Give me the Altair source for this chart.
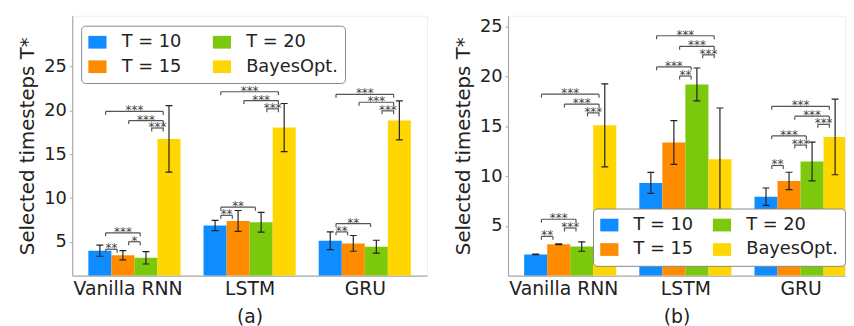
import json
import altair as alt
import pandas as pd

# ---------------- data ----------------
models = ["Vanilla RNN", "LSTM", "GRU"]
series = ["T = 10", "T = 15", "T = 20", "BayesOpt."]
colors = ["#0f8cff", "#ff8c00", "#7bc80c", "#ffd600"]

# panel (a): means and std per series, ordered as models
a_t10 = [4.01, 6.88, 5.14]
a_t15 = [3.49, 7.40, 4.84]
a_t20 = [3.19, 7.25, 4.46]
a_bo = [16.76, 18.05, 18.87]
a_t10_sd = [0.64, 0.59, 1.01]
a_t15_sd = [0.53, 1.19, 0.90]
a_t20_sd = [0.70, 1.13, 0.74]
a_bo_sd = [3.80, 2.75, 2.22]

# panel (b)
b_t10 = [2.14, 9.32, 7.94]
b_t15 = [3.16, 13.38, 9.52]
b_t20 = [2.93, 19.21, 11.47]
b_bo = [15.10, 11.70, 13.94]
b_t10_sd = [0.03, 1.05, 0.87]
b_t15_sd = [0.03, 2.20, 0.87]
b_t20_sd = [0.47, 1.65, 1.95]
b_bo_sd = [4.17, 5.14, 3.80]

# significance brackets: (model index, bar i, bar j, level, label)
a_brackets = [
    (0, 0, 3, 19.89, "***"), (0, 1, 3, 18.84, "***"), (0, 2, 3, 18.00, "***"),
    (0, 0, 2, 6.04, "***"), (0, 1, 2, 5.03, "*"), (0, 0, 1, 4.17, "**"),
    (1, 0, 3, 22.14, "***"), (1, 1, 3, 21.13, "***"), (1, 2, 3, 20.19, "***"),
    (1, 0, 2, 8.97, "**"), (1, 0, 1, 8.04, "**"),
    (2, 0, 3, 21.84, "***"), (2, 1, 3, 20.94, "***"), (2, 2, 3, 19.96, "***"),
    (2, 0, 2, 7.10, "**"), (2, 0, 1, 6.15, "**"),
]
b_brackets = [
    (0, 0, 3, 18.23, "***"), (0, 1, 3, 17.24, "***"), (0, 2, 3, 16.35, "***"),
    (0, 0, 2, 5.67, "***"), (0, 1, 2, 4.79, "***"), (0, 0, 1, 3.95, "**"),
    (1, 0, 3, 24.10, "***"), (1, 1, 3, 23.04, "***"), (1, 2, 3, 22.18, "***"),
    (1, 0, 2, 20.97, "***"), (1, 1, 2, 20.05, "**"),
    (2, 0, 3, 17.01, "***"), (2, 1, 3, 16.02, "***"), (2, 2, 3, 15.20, "***"),
    (2, 0, 2, 14.04, "***"), (2, 1, 2, 13.12, "***"), (2, 0, 1, 11.07, "**"),
]

y_ticks = [5, 10, 15, 20, 25]

# ---------------- styling ----------------
BAR_W = 0.2
SHRINK = 0.05
FONT = "DejaVu Sans"
label_expr = json.dumps(models) + "[datum.value]"


def panel(means, sds, brackets, xdomain, ydomain, width, caption, legend):
    rows = []
    for k, s in enumerate(series):
        for g, m in enumerate(models):
            c = g + (k - 1.5) * BAR_W
            rows.append(dict(series=s, model=m, xc=c, x0=c - BAR_W / 2,
                             x1=c + BAR_W / 2, value=means[k][g],
                             lo=means[k][g] - sds[k][g], hi=means[k][g] + sds[k][g]))
    df = pd.DataFrame(rows)

    brows, trows = [], []
    for g, i, j, lev, lab in brackets:
        x1 = g + (i - 1.5) * BAR_W + SHRINK
        x2 = g + (j - 1.5) * BAR_W - SHRINK
        brows.append(dict(bx1=x1, bx2=x2, mid=(x1 + x2) / 2, level=lev, label=lab))
        trows.append(dict(tx=x1, level=lev))
        trows.append(dict(tx=x2, level=lev))
    bdf = pd.DataFrame(brows)
    tdf = pd.DataFrame(trows)

    xs = alt.Scale(domain=xdomain, nice=False, zero=False)
    ys = alt.Scale(domain=ydomain, nice=False, zero=False)
    xaxis = alt.Axis(values=[0, 1, 2], labelExpr=label_expr, title=caption,
                     labelFontSize=19, titleFontSize=19, tickSize=0,
                     labelPadding=4, titlePadding=9, grid=False,
                     labelFlush=False, labelOverlap=False,
                     labelOffset={"condition": {"test": "datum.value == 0", "value": -7},
                                  "value": 0})
    yaxis = alt.Axis(values=y_ticks, title="Selected timesteps T*",
                     labelFontSize=18, titleFontSize=20, tickSize=3,
                     labelPadding=3, titlePadding=6, grid=False)

    def X(f):
        return alt.X(f, scale=xs, axis=xaxis)

    def Y(f):
        return alt.Y(f, scale=ys, axis=yaxis)

    bars = alt.Chart(df).mark_bar(clip=True, strokeWidth=0).encode(
        x=X("x0:Q"), x2="x1:Q", y=Y("value:Q"), y2=alt.datum(ydomain[0]),
        color=alt.Color("series:N",
                        scale=alt.Scale(domain=series, range=colors),
                        legend=legend),
    )
    err = alt.Chart(df).mark_rule(color="#222222", strokeWidth=1.2, clip=True).encode(
        x=X("xc:Q"), y=Y("lo:Q"), y2="hi:Q")
    cap_lo = alt.Chart(df).mark_tick(orient="horizontal", size=7, thickness=1.2,
                                     color="#222222", opacity=1, clip=True).encode(
        x=X("xc:Q"), y=Y("lo:Q"))
    cap_hi = alt.Chart(df).mark_tick(orient="horizontal", size=7, thickness=1.2,
                                     color="#222222", opacity=1, clip=True).encode(
        x=X("xc:Q"), y=Y("hi:Q"))
    bline = alt.Chart(bdf).mark_rule(color="#555555", strokeWidth=1.2).encode(
        x=X("bx1:Q"), x2="bx2:Q", y=Y("level:Q"))
    bticks = alt.Chart(tdf).mark_rule(color="#555555", strokeWidth=1.2,
                                      y2Offset=3.5).encode(
        x=X("tx:Q"), y=Y("level:Q"), y2="level:Q")
    btext = alt.Chart(bdf).mark_text(font=FONT, fontSize=12, color="#444444",
                                     dy=3, baseline="alphabetic").encode(
        x=X("mid:Q"), y=Y("level:Q"), text="label:N")

    return alt.layer(bars, err, cap_lo, cap_hi, bline, bticks, btext).properties(
        width=width, height=263)


def make_legend(x, y, colpad):
    return alt.Legend(title=None, orient="none", legendX=x, legendY=y, columns=2,
                      symbolType="M-1,-0.7H1V0.7H-1Z", symbolSize=338,
                      symbolStrokeWidth=0, symbolOpacity=1,
                      labelFontSize=18, labelFont=FONT, labelColor="#222222",
                      labelOffset=15, columnPadding=colpad, rowPadding=6,
                      padding=7, strokeColor="#888888", fillColor="white",
                      cornerRadius=4, zindex=1)


left = panel([a_t10, a_t15, a_t20, a_bo], [a_t10_sd, a_t15_sd, a_t20_sd, a_bo_sd],
             a_brackets, [-0.54, 2.54], [1.15, 30.8], 359, "(a)",
             make_legend(9, 10, 31))
right = panel([b_t10, b_t15, b_t20, b_bo], [b_t10_sd, b_t15_sd, b_t20_sd, b_bo_sd],
              b_brackets, [-0.54, 2.386], [0, 26.1], 341, "(b)",
              make_legend(86, 195, 19))

chart = alt.hconcat(left, right, spacing=25).resolve_scale(
    color="independent").resolve_legend(color="independent").properties(
    padding={"left": 9, "top": 5, "right": 0, "bottom": 0}
).configure(font=FONT).configure_view(stroke="#eeeeee").configure_axis(
    labelFont=FONT, titleFont=FONT, titleFontWeight="normal",
    labelColor="#222222", titleColor="#222222",
    domainColor="#aaaaaa", tickColor="#aaaaaa", domainWidth=1.2)

chart.save("out.html", embed_options={"renderer": "svg", "actions": False})
